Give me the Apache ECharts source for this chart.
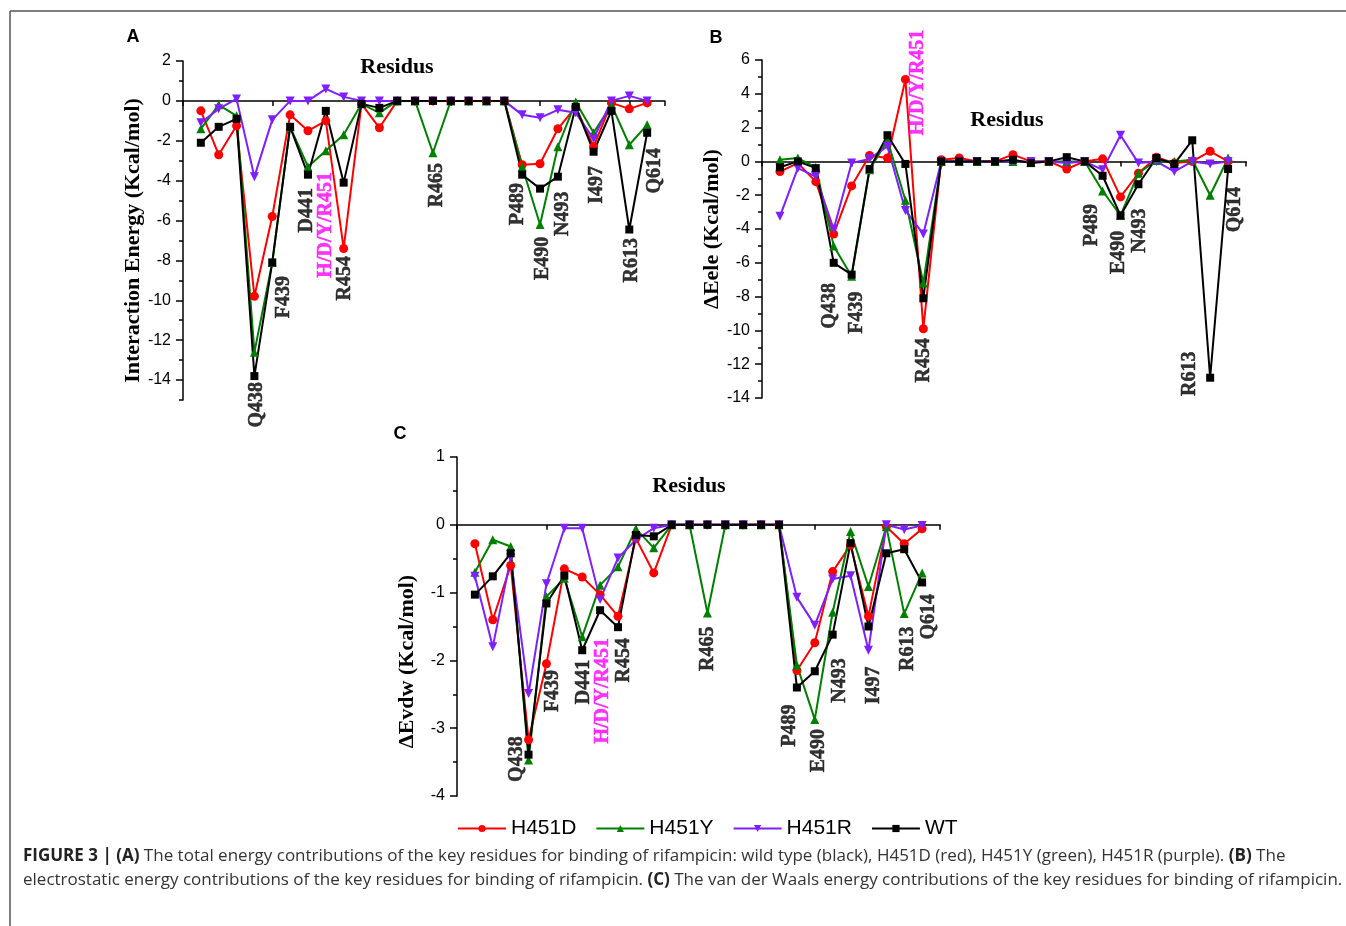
<!DOCTYPE html>
<html>
<head>
<meta charset="utf-8">
<title>Figure 3</title>
<script src="https://cdn.jsdelivr.net/npm/echarts@6.0.0/dist/echarts.min.js"></script>
<style>
  html, body { margin: 0; padding: 0; background: #fff; }
  #chart { width: 1346px; height: 926px; }
</style>
</head>
<body>
<div id="chart"></div>
<script>
// residues along the x axis are evenly spaced, index 0..25
const mutants = ['H451D', 'H451Y', 'H451R', 'WT'];

// (A) total interaction energy
const aH451D = [-0.5, -2.7, -1.25, -9.8, -5.8, -0.7, -1.5, -1.0, -7.4, -0.15, -1.35, 0, 0, 0, 0, 0, 0, 0, -3.2, -3.15, -1.4, -0.3, -2.3, -0.1, -0.4, -0.1];
const aH451Y = [-1.4, -0.2, -0.75, -12.6, -8.1, -1.3, -3.3, -2.5, -1.7, -0.15, -0.6, 0, 0, -2.6, 0, 0, 0, 0, -3.3, -6.2, -2.3, -0.05, -1.6, -0.2, -2.2, -1.2];
const aH451R = [-1.1, -0.4, 0.1, -3.8, -0.95, 0, 0, 0.6, 0.2, 0, 0, 0, 0, 0, 0, 0, 0, 0, -0.7, -0.85, -0.45, -0.6, -1.9, 0, 0.25, 0];
const aWT    = [-2.1, -1.3, -0.9, -13.8, -8.1, -1.3, -3.7, -0.5, -4.1, -0.15, -0.35, 0, 0, 0, 0, 0, 0, 0, -3.7, -4.4, -3.8, -0.3, -2.55, -0.5, -6.45, -1.6];

// (B) electrostatic
const bH451D = [-0.6, -0.1, -1.2, -4.3, -1.45, 0.35, 0.2, 4.85, -9.9, 0.1, 0.2, 0, 0, 0.4, 0, 0, -0.45, 0, 0.15, -2.1, -0.7, 0.25, -0.1, 0, 0.6, 0];
const bH451Y = [0.1, 0.2, -0.35, -5.0, -6.8, -0.5, 1.25, -2.3, -7.2, 0, 0, 0, 0, 0, -0.05, 0, 0, 0, -1.75, -3.2, -0.7, 0.05, 0, 0.1, -2.0, 0.2];
const bH451R = [-3.25, -0.4, -0.9, -4.0, -0.1, 0.15, 0.9, -2.9, -4.3, 0, 0, 0, 0, 0, 0, 0, -0.1, 0, -0.5, 1.55, -0.1, 0, -0.6, 0, -0.15, 0];
const bWT    = [-0.35, 0, -0.4, -6.0, -6.7, -0.45, 1.55, -0.15, -8.1, 0, 0, 0, 0, 0.1, -0.1, 0, 0.25, 0, -0.85, -3.2, -1.35, 0.2, -0.15, 1.25, -12.8, -0.45];

// (C) van der Waals
const cH451D = [-0.28, -1.40, -0.6, -3.17, -2.05, -0.65, -0.77, -1.03, -1.35, -0.2, -0.71, 0, 0, 0, 0, 0, 0, 0, -2.15, -1.74, -0.69, -0.3, -1.35, -0.03, -0.28, -0.06];
const cH451Y = [-0.70, -0.22, -0.32, -3.47, -1.06, -0.79, -1.65, -0.89, -0.62, -0.06, -0.34, 0, 0, -1.30, 0, 0, 0, 0, -2.07, -2.87, -1.29, -0.10, -0.91, -0.03, -1.31, -0.71];
const cH451R = [-0.76, -1.80, -0.49, -2.49, -0.87, -0.05, -0.05, -1.10, -0.49, -0.22, -0.05, 0, 0, 0, 0, 0, 0, 0, -1.07, -1.48, -0.80, -0.75, -1.85, 0, -0.07, -0.01];
const cWT    = [-1.03, -0.76, -0.42, -3.39, -1.16, -0.75, -1.85, -1.26, -1.51, -0.15, -0.17, 0, 0, 0, 0, 0, 0, 0, -2.40, -2.16, -1.62, -0.27, -1.50, -0.42, -0.36, -0.85];

// y tick labels
const aTicks = [2, 0, -2, -4, -6, -8, -10, -12, -14];
const aMinorTicks = [1, -1, -3, -5, -7, -9, -11, -13, -15];

// residue names written next to the dips
const aLabels = ['Q438', 'F439', 'D441', 'H/D/Y/R451', 'R454', 'R465', 'P489', 'E490', 'N493', 'I497', 'R613', 'Q614'];
const bLabels = ['Q438', 'F439', 'H/D/Y/R451', 'R454', 'P489', 'E490', 'N493', 'R613', 'Q614'];
const cLabels = ['Q438', 'F439', 'D441', 'H/D/Y/R451', 'R454', 'R465', 'P489', 'E490', 'N493', 'I497', 'R613', 'Q614'];

// where those names are anchored (data coords: residue index, y of the text's top end)
const aLabelAt = [[3.13, -14.1], [4.66, -8.78], [5.93, -4.37], [7.0, -3.57], [8.08, -7.78], [13.2, -3.11], [17.77, -4.12], [19.17, -6.81], [20.27, -4.55], [22.18, -3.26], [24.15, -6.88], [25.44, -2.36]];
const bLabelAt = [[2.79, -7.2], [4.28, -7.7], [7.72, 1.55], [8.0, -10.45], [17.4, -2.52], [18.9, -4.1], [20.1, -2.78], [22.85, -11.25], [25.4, -1.5]];
const cLabelAt = [[2.37, -3.12], [4.35, -2.14], [6.1, -1.99], [7.14, -1.67], [8.35, -1.67], [13.0, -1.5], [17.6, -2.65], [19.2, -3.01], [20.4, -1.97], [22.3, -2.09], [24.2, -1.5], [25.4, -1.02]];
// labels in B that grow upward from their anchor
const bUpward = ['H/D/Y/R451'];

const colors = ['#ff0000', '#008000', '#7f1fff', '#000000'];
const symbols = ['circle', 'triangle', 'path://M0,0L10,0L5,9Z', 'rect'];
const serif = '"Liberation Serif", "Times New Roman", serif';
const sans = '"Liberation Sans", Arial, sans-serif';
const captionFont = '"Open Sans", "Liberation Sans", sans-serif';

const chart = echarts.init(document.getElementById('chart'));

function toPoints(values) {
    return values.map(function (v, i) { return [i, v]; });
}

function panelSeries(gridIndex, yAxisIndex, sets, labels, anchors, upward) {
    const list = sets.map(function (values, k) {
        return {
            name: mutants[k],
            type: 'line',
            xAxisIndex: gridIndex,
            yAxisIndex: yAxisIndex,
            data: toPoints(values),
            symbol: symbols[k],
            symbolSize: k === 3 ? 8 : 9,
            showAllSymbol: true,
            lineStyle: { color: colors[k], width: 2 },
            itemStyle: { color: colors[k] },
            silent: true,
            animation: false
        };
    });
    // residue name annotations
    list.push({
        type: 'scatter',
        xAxisIndex: gridIndex,
        yAxisIndex: yAxisIndex,
        symbolSize: 1,
        itemStyle: { color: 'rgba(0,0,0,0)' },
        silent: true,
        animation: false,
        z: 10,
        data: labels.map(function (name, k) {
            const up = (upward || []).indexOf(name) >= 0;
            const c = name.indexOf('/') >= 0 ? '#ff00ff' : '#000';
            return {
                name: name,
                value: anchors[k],
                label: { color: c, textBorderColor: c, align: up ? 'left' : 'right' }
            };
        }),
        label: {
            show: true,
            formatter: '{b}',
            position: 'inside',
            rotate: 90,
            verticalAlign: 'middle',
            fontFamily: serif,
            fontWeight: 'bold',
            fontSize: 20,
            textBorderWidth: 0.5
        }
    });
    return list;
}

function xAxisFor(gridIndex) {
    return {
        type: 'value',
        gridIndex: gridIndex,
        min: -1,
        max: 26,
        interval: 5,
        axisLine: { show: true, onZero: true, onZeroAxisIndex: gridIndex === 0 ? 0 : undefined, lineStyle: { color: '#000', width: 1.5 } },
        axisTick: { show: true, length: 5, lineStyle: { color: '#000', width: 1.5 } },
        axisLabel: { show: false },
        splitLine: { show: false }
    };
}

const yName = {
    fontFamily: serif,
    fontWeight: 'bold',
    fontSize: 22,
    color: '#000'
};
const yLabel = { fontFamily: sans, fontSize: 16, color: '#000', margin: 12 };
const yLine = { show: true, onZero: false, lineStyle: { color: '#000', width: 1.5 } };
const minor = { show: true, splitNumber: 2, length: 4, lineStyle: { color: '#000', width: 1.5 } };

const option = {
    backgroundColor: '#fff',
    animation: false,
    grid: [
        { left: 183, top: 61, width: 482, height: 339 },
        { left: 762, top: 60, width: 484, height: 338 },
        { left: 457, top: 457, width: 483, height: 339 }
    ],
    xAxis: [xAxisFor(0), xAxisFor(1), xAxisFor(2)],
    yAxis: [
        {
            type: 'value', gridIndex: 0, position: 'left', min: -15, max: 2,
            axisLine: yLine,
            axisTick: { show: true, length: 7, customValues: aTicks, lineStyle: { color: '#000', width: 1.5 } },
            axisLabel: Object.assign({ customValues: aTicks }, yLabel),
            splitLine: { show: false },
            name: 'Interaction Energy (Kcal/mol)', nameLocation: 'middle', nameGap: 39,
            nameTextStyle: Object.assign({ padding: [0, 20, 0, 0] }, yName)
        },
        {
            type: 'value', gridIndex: 0, position: 'left', min: -15, max: 2,
            axisLine: { show: false, onZero: false },
            axisTick: { show: true, length: 4, customValues: aMinorTicks, lineStyle: { color: '#000', width: 1.5 } },
            axisLabel: { show: false },
            splitLine: { show: false }
        },
        {
            type: 'value', gridIndex: 1, min: -14, max: 6, interval: 2,
            axisLine: yLine,
            axisTick: { show: true, length: 7, lineStyle: { color: '#000', width: 1.5 } },
            minorTick: minor,
            axisLabel: yLabel,
            splitLine: { show: false },
            name: 'ΔEele (Kcal/mol)', nameLocation: 'middle', nameGap: 38,
            nameTextStyle: yName
        },
        {
            type: 'value', gridIndex: 2, min: -4, max: 1, interval: 1,
            axisLine: yLine,
            axisTick: { show: true, length: 7, lineStyle: { color: '#000', width: 1.5 } },
            minorTick: minor,
            axisLabel: yLabel,
            splitLine: { show: false },
            name: 'ΔEvdw (Kcal/mol)', nameLocation: 'middle', nameGap: 39,
            nameTextStyle: Object.assign({ padding: [0, 70, 0, 0] }, yName)
        }
    ],
    legend: {
        data: mutants,
        left: 452,
        top: 813,
        itemWidth: 48,
        itemHeight: 9,
        itemGap: 19,
        textStyle: { fontFamily: sans, fontSize: 21, color: '#000' }
    },
    series: [].concat(
        panelSeries(0, 0, [aH451D, aH451Y, aH451R, aWT], aLabels, aLabelAt),
        panelSeries(1, 2, [bH451D, bH451Y, bH451R, bWT], bLabels, bLabelAt, bUpward),
        panelSeries(2, 3, [cH451D, cH451Y, cH451R, cWT], cLabels, cLabelAt)
    ),
    graphic: [
        { type: 'line', shape: { x1: 10, y1: 11, x2: 1346, y2: 11 }, style: { stroke: '#555', lineWidth: 1.5 } },
        { type: 'line', shape: { x1: 10, y1: 11, x2: 10, y2: 926 }, style: { stroke: '#555', lineWidth: 1.5 } },
        { type: 'text', x: 133, y: 37, style: { text: 'A', font: 'bold 18px ' + sans, fill: '#000', align: 'center', verticalAlign: 'middle' } },
        { type: 'text', x: 716, y: 38, style: { text: 'B', font: 'bold 18px ' + sans, fill: '#000', align: 'center', verticalAlign: 'middle' } },
        { type: 'text', x: 400, y: 434, style: { text: 'C', font: 'bold 18px ' + sans, fill: '#000', align: 'center', verticalAlign: 'middle' } },
        { type: 'text', x: 397, y: 67, style: { text: 'Residus', font: 'bold 22px ' + serif, fill: '#000', align: 'center', verticalAlign: 'middle' } },
        { type: 'text', x: 1007, y: 120, style: { text: 'Residus', font: 'bold 22px ' + serif, fill: '#000', align: 'center', verticalAlign: 'middle' } },
        { type: 'text', x: 689, y: 486, style: { text: 'Residus', font: 'bold 22px ' + serif, fill: '#000', align: 'center', verticalAlign: 'middle' } },
        {
            type: 'text', x: 23, y: 856,
            style: {
                text: '{b|FIGURE 3 | (A)} The total energy contributions of the key residues for binding of rifampicin: wild type (black), H451D (red), H451Y (green), H451R (purple). {b|(B)} The',
                font: '17px ' + captionFont, fill: '#333', verticalAlign: 'middle',
                rich: { b: { fontWeight: 'bold', fontSize: 17, fontFamily: captionFont, fill: '#222' } }
            }
        },
        {
            type: 'text', x: 23, y: 880,
            style: {
                text: 'electrostatic energy contributions of the key residues for binding of rifampicin. {b|(C)} The van der Waals energy contributions of the key residues for binding of rifampicin.',
                font: '17px ' + captionFont, fill: '#333', verticalAlign: 'middle',
                rich: { b: { fontWeight: 'bold', fontSize: 17, fontFamily: captionFont, fill: '#222' } }
            }
        }
    ]
};

chart.setOption(option);
</script>
</body>
</html>
